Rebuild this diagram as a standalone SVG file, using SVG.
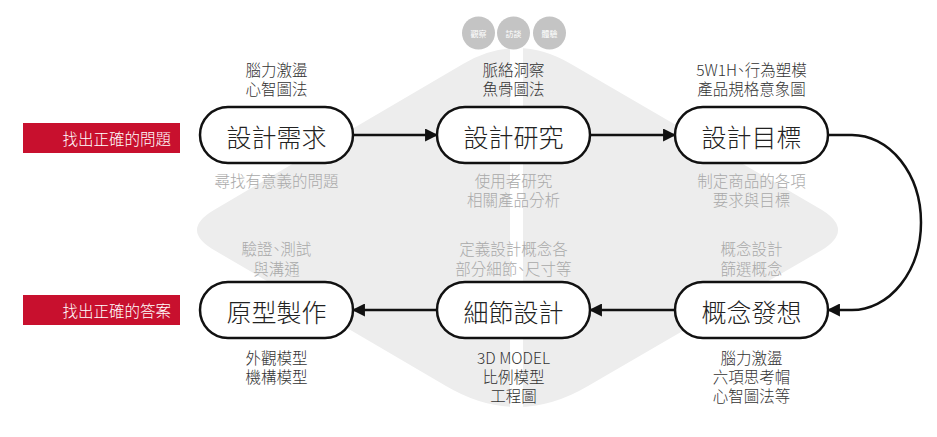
<svg xmlns="http://www.w3.org/2000/svg" width="937" height="437" viewBox="0 0 937 437">
<style>
.bg{fill:#ededed}
.node rect{fill:#fff;stroke:#111;stroke-width:2.5}
.nt{font-family:"Noto Sans CJK TC","Noto Sans",sans-serif;font-weight:300;font-size:25px;fill:#222;text-anchor:middle;dominant-baseline:central}
.lb{font-family:"Noto Sans CJK TC","Noto Sans",sans-serif;font-weight:300;font-size:15.5px;text-anchor:middle;dominant-baseline:central;font-feature-settings:"halt"}
.dk{fill:#333}
.gy{fill:#a9a9a9}
.tag rect{fill:#c8102e}
.tag text{font-family:"Noto Sans CJK TC","Noto Sans",sans-serif;font-weight:300;font-size:15.5px;fill:#fff;text-anchor:end;dominant-baseline:central}
.dot circle{fill:#c4c4c4}
.dot text{font-family:"Noto Sans CJK TC","Noto Sans",sans-serif;font-size:8px;fill:#fff;text-anchor:middle;dominant-baseline:central}
.conn path{fill:none;stroke:#111;stroke-width:2.5}
</style>
<defs>
<marker id="ah" viewBox="0 0 12 12" refX="11" refY="6" markerWidth="13" markerHeight="13" markerUnits="userSpaceOnUse" orient="auto">
<path d="M0,0 L12,6 L0,12 z" fill="#111"/>
</marker>
</defs>
<rect width="937" height="437" fill="#fff"/>
<g id="background">
<path class="bg" d="M214,210 L463,64 Q517,32 571,64 L822,210 Q854,230 822,250 L588,386 Q517,428 446,386 L214,250 Q180,230 214,210 Z"/>
<rect x="510" y="20" width="13" height="420" fill="#fff"/>
</g>
<g id="methods" class="dot">
<circle cx="478.5" cy="33" r="16.5"/><text x="478.5" y="33">觀察</text>
<circle cx="513.5" cy="33" r="16.5"/><text x="513.5" y="33">訪談</text>
<circle cx="549.5" cy="33" r="16.5"/><text x="549.5" y="33">體驗</text>
</g>
<g id="tag-problem" class="tag"><rect x="23" y="123" width="157" height="30"/><text x="171" y="138">找出正確的問題</text></g>
<g id="tag-answer" class="tag"><rect x="23" y="295" width="157" height="30"/><text x="171" y="310">找出正確的答案</text></g>
<g id="connectors" class="conn">
<path d="M353,135 H437" marker-end="url(#ah)"/>
<path d="M590,135 H675" marker-end="url(#ah)"/>
<path d="M828,135 H852 A69,87.5 0 0 1 852,310 H828" marker-end="url(#ah)"/>
<path d="M675,310 H590" marker-end="url(#ah)"/>
<path d="M437,310 H353" marker-end="url(#ah)"/>
</g>
<g id="n1" class="node">
<rect x="200" y="107" width="153" height="56" rx="28"/>
<text class="nt" x="276.5" y="135.5">設計需求</text>
<text class="lb dk" x="276.5" y="69">腦力激盪</text>
<text class="lb dk" x="276.5" y="88">心智圖法</text>
<text class="lb gy" x="276.5" y="180">尋找有意義的問題</text>
</g>
<g id="n2" class="node">
<rect x="437" y="107" width="153" height="56" rx="28"/>
<text class="nt" x="513.5" y="135.5">設計研究</text>
<text class="lb dk" x="513.5" y="69">脈絡洞察</text>
<text class="lb dk" x="513.5" y="88">魚骨圖法</text>
<text class="lb gy" x="513.5" y="180">使用者研究</text>
<text class="lb gy" x="513.5" y="199">相關產品分析</text>
</g>
<g id="n3" class="node">
<rect x="675" y="107" width="153" height="56" rx="28"/>
<text class="nt" x="751.5" y="135.5">設計目標</text>
<text class="lb dk" x="751.5" y="69">5W1H、行為塑模</text>
<text class="lb dk" x="751.5" y="88">產品規格意象圖</text>
<text class="lb gy" x="751.5" y="180">制定商品的各項</text>
<text class="lb gy" x="751.5" y="199">要求與目標</text>
</g>
<g id="n4" class="node">
<rect x="675" y="282" width="153" height="56" rx="28"/>
<text class="nt" x="751.5" y="310.5">概念發想</text>
<text class="lb gy" x="751.5" y="248">概念設計</text>
<text class="lb gy" x="751.5" y="268">篩選概念</text>
<text class="lb dk" x="751.5" y="357">腦力激盪</text>
<text class="lb dk" x="751.5" y="376">六項思考帽</text>
<text class="lb dk" x="751.5" y="395">心智圖法等</text>
</g>
<g id="n5" class="node">
<rect x="437" y="282" width="153" height="56" rx="28"/>
<text class="nt" x="513.5" y="310.5">細節設計</text>
<text class="lb gy" x="513.5" y="248">定義設計概念各</text>
<text class="lb gy" x="513.5" y="268">部分細節、尺寸等</text>
<text class="lb dk" x="513.5" y="357">3D MODEL</text>
<text class="lb dk" x="513.5" y="376">比例模型</text>
<text class="lb dk" x="513.5" y="395">工程圖</text>
</g>
<g id="n6" class="node">
<rect x="200" y="282" width="153" height="56" rx="28"/>
<text class="nt" x="276.5" y="310.5">原型製作</text>
<text class="lb gy" x="276.5" y="248">驗證、測試</text>
<text class="lb gy" x="276.5" y="268">與溝通</text>
<text class="lb dk" x="276.5" y="357">外觀模型</text>
<text class="lb dk" x="276.5" y="376">機構模型</text>
</g>
</svg>
